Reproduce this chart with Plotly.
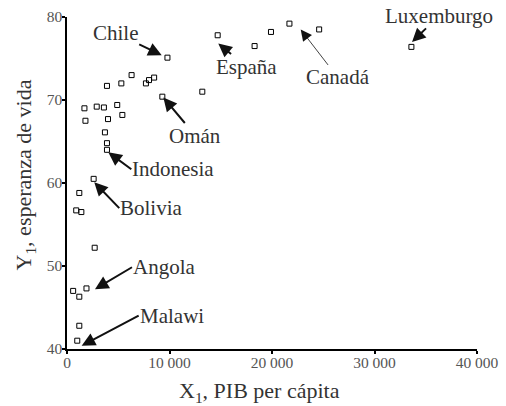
import plotly.graph_objects as go

# GDP per capita (X1) and life expectancy (Y1)
gdp = [9800, 14700, 18300, 19900, 21700, 24600, 33600, 13200, 9300, 6300,
       5300, 3900, 7700, 8000, 8500, 1700, 2900, 3600, 4900, 1800,
       4000, 5400, 3700, 3900, 3900, 2600, 1200, 900, 1400, 2700,
       600, 1200, 1900, 1200, 1000]
life = [75.1, 77.8, 76.5, 78.2, 79.2, 78.5, 76.4, 71.0, 70.4, 73.0,
        72.0, 71.7, 72.0, 72.4, 72.7, 69.0, 69.2, 69.1, 69.4, 67.5,
        67.7, 68.2, 66.1, 64.8, 64.0, 60.5, 58.8, 56.7, 56.5, 52.2,
        47.0, 46.3, 47.3, 42.8, 41.0]

x_ticks = [0, 10000, 20000, 30000, 40000]
x_tick_labels = ["0", "10 000", "20 000", "30 000", "40 000"]
y_ticks = [40, 50, 60, 70, 80]
x_title = "X<sub>1</sub>, PIB per cápita"
y_title = "Y<sub>1</sub>, esperanza de vida"

# labels: name, arrow head (data), tail offset from head (px), anchors, arrow width
labels = ["Chile", "España", "Canadá", "Luxemburgo", "Omán", "Indonesia", "Bolivia", "Angola", "Malawi"]
head_x = [9240, 14760, 22800, 33660, 9400, 4030, 2660, 2730, 1430]
head_y = [75.4, 76.8, 78.5, 77.0, 70.3, 63.7, 60.1, 47.2, 40.4]
tail_dx = [-46, 28, 37, 27, 32, 23, 25, 37, 57]
tail_dy = [-22, 23, 48, -26, 38, 17, 26, -22, -30]
x_anchor = ["center", "center", "center", "center", "center", "left", "left", "left", "left"]
arrow_w = [2, 2, 0.8, 2, 2, 2, 2, 2, 2]

SERIF = "Liberation Serif"

fig = go.Figure()
fig.add_trace(go.Scatter(
    x=gdp, y=life, mode="markers",
    marker=dict(symbol="square-open", size=5, color="black", line=dict(width=1)),
    hoverinfo="skip", cliponaxis=False,
))

anns = []
for name, hx, hy, dx, dy, xa, w in zip(labels, head_x, head_y, tail_dx, tail_dy,
                                       x_anchor, arrow_w):
    anns.append(dict(x=hx, y=hy, xref="x", yref="y", text=name, showarrow=True,
                     ax=dx, ay=dy, arrowhead=2, arrowsize=1.35 if w > 1 else 2.8,
                     arrowwidth=w, arrowcolor="#111", standoff=0,
                     xanchor=xa, yanchor="middle", borderpad=0,
                     font=dict(family=SERIF, size=21, color="#333")))

# axis titles as paper-positioned annotations
anns.append(dict(text=x_title, xref="paper", yref="paper", x=0.47, y=-0.13,
                 xanchor="center", yanchor="middle", showarrow=False,
                 font=dict(family=SERIF, size=22, color="#333")))
anns.append(dict(text=y_title, xref="paper", yref="paper", x=-0.103, y=0.525,
                 xanchor="center", yanchor="middle", showarrow=False, textangle=-90,
                 font=dict(family=SERIF, size=22, color="#333")))

fig.update_layout(
    width=506, height=406,
    margin=dict(l=67, r=29, t=17, b=57),
    paper_bgcolor="white", plot_bgcolor="white",
    showlegend=False,
    annotations=anns,
    font=dict(family=SERIF, color="#333"),
)
fig.update_xaxes(
    range=[0, 40000], tickvals=x_ticks, ticktext=x_tick_labels, automargin=False,
    showgrid=False, zeroline=False, showline=True, linecolor="black", linewidth=1.5,
    ticks="outside", ticklen=3, tickwidth=2, tickcolor="black", ticklabelstandoff=-4,
    tickfont=dict(family=SERIF, size=15.5, color="#555"),
)
fig.update_yaxes(
    range=[40, 80], tickvals=y_ticks, automargin=False,
    showgrid=False, zeroline=False, showline=True, linecolor="black", linewidth=1.5,
    ticks="outside", ticklen=3, tickwidth=2, tickcolor="black", ticklabelstandoff=-3,
    tickfont=dict(family=SERIF, size=15.5, color="#555"),
)

fig.write_html("out.html", config={"displayModeBar": False},
               post_script="document.body.style.margin='0';")
